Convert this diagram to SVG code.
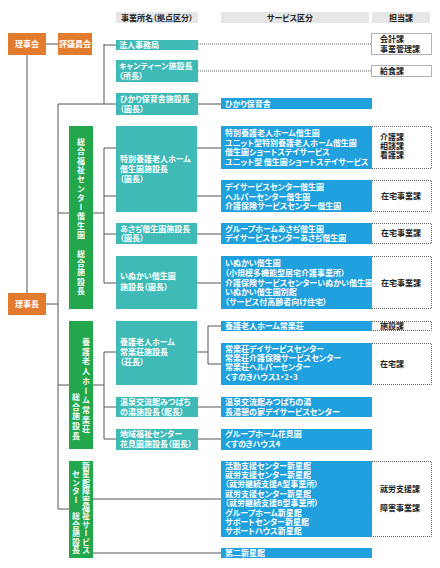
<svg xmlns="http://www.w3.org/2000/svg" width="440" height="568" viewBox="0 0 440 568">
<style>
text{font-family:"Noto Sans CJK JP","Noto Sans CJK SC",sans-serif;font-weight:bold;font-size:8px;font-feature-settings:"palt"}
.w{fill:#fff}
.k{fill:#222}
.vt{fill:#fff;writing-mode:vertical-rl;font-feature-settings:normal}
.or{fill:#e37b2f}
.gr{fill:#22a74d}
.te{fill:#40bab6}
.bl{fill:#20a0dc}
.hd{fill:#e6e6e6}
.ln{stroke:#555;stroke-width:1;fill:none}
.dl{stroke:#666;stroke-width:1;fill:none;stroke-dasharray:1 1}
.db{stroke:#666;stroke-width:1;fill:#fff;stroke-dasharray:1 1}
</style>
<rect width="440" height="568" fill="#fff"/>

<g id="headers">
<rect class="hd" x="116" y="12" width="82" height="11"/>
<text class="k" x="157" y="20.5" text-anchor="middle">事業所名（拠点区分）</text>
<rect class="hd" x="221" y="12" width="148" height="11"/>
<text class="k" x="290" y="20.5" text-anchor="middle">サービス区分</text>
<rect class="hd" x="372" y="12" width="58" height="11"/>
<text class="k" x="401" y="20.5" text-anchor="middle">担当課</text>
</g>

<g id="connectors">
<path class="ln" d="M46 44H58 M27 55V293 M46 304H58 M58 104V509 M58 104H116 M104 44V104 M104 45H116 M198 104H221"/>
<path class="dl" d="M198 44H371 M198 71H371"/>
<path class="ln" d="M58 213H69 M93 213H104 M104 148V283 M104 148H116 M104 196H116 M104 234H116 M104 283H116 M197 148H221 M197 196H221 M197 234H221 M197 283H221"/>
<path class="ln" d="M58 385H69 M93 385H104 M104 352V439 M104 352H116 M104 407H116 M104 439H116 M197 352H208 M208 326V364 M208 326H221 M208 364H221 M197 407H221 M197 439H221"/>
<path class="ln" d="M58 509H69 M93 499H221 M93 553H221"/>
</g>

<g id="rijikai"><rect class="or" x="8" y="33" width="38" height="22"/><text class="w" x="27" y="47" text-anchor="middle">理事会</text></g>
<g id="hyogiinkai"><rect class="or" x="58" y="33" width="34" height="22"/><text class="w" x="75" y="47" text-anchor="middle">評議員会</text></g>
<g id="rijicho"><rect class="or" x="8" y="293" width="38" height="22"/><text class="w" x="27" y="307" text-anchor="middle">理事長</text></g>

<g id="green1"><rect class="gr" x="69" y="126" width="24" height="183"/><text class="vt" x="81" y="138" letter-spacing="1.3">総合福祉センター偕生園　総合施設長</text></g>
<g id="green2"><rect class="gr" x="69" y="321" width="24" height="128"/><text class="vt" x="86" y="338" letter-spacing="1.7">養護老人ホーム常楽荘</text><text class="vt" x="76" y="393" letter-spacing="1.7">総合施設長</text></g>
<g id="green3"><rect class="gr" x="69" y="461" width="24" height="97"/><text class="vt" x="86" y="462" letter-spacing="0.4">新星館障害福祉サービス</text><text class="vt" x="76" y="470.4" letter-spacing="0.4">センター　総合施設長</text></g>

<g id="t-hojin"><rect class="te" x="116" y="40" width="82" height="10"/><text class="w" x="119" y="48">法人事務局</text></g>
<g id="t-canteen"><rect class="te" x="116" y="60" width="82" height="22"/><text class="w" x="119" y="69">キャンティーン施設長</text><text class="w" x="119" y="79">（所長）</text></g>
<g id="t-hikari"><rect class="te" x="116" y="93" width="82" height="22"/><text class="w" x="120" y="102">ひかり保育舎施設長</text><text class="w" x="120" y="112">（園長）</text></g>
<g id="t-tokuyo"><rect class="te" x="116" y="126" width="81" height="86"/><text class="w" x="120" y="162">特別養護老人ホーム</text><text class="w" x="120" y="172">偕生園施設長</text><text class="w" x="120" y="182">（園長）</text></g>
<g id="t-asadi"><rect class="te" x="116" y="223" width="81" height="21"/><text class="w" x="120" y="232">あさぢ偕生園施設長</text><text class="w" x="120" y="241">（園長）</text></g>
<g id="t-inukai"><rect class="te" x="116" y="256" width="81" height="53"/><text class="w" x="120" y="279">いぬかい偕生園</text><text class="w" x="120" y="290">施設長（園長）</text></g>
<g id="t-joraku"><rect class="te" x="116" y="321" width="81" height="64"/><text class="w" x="120" y="345">養護老人ホーム</text><text class="w" x="120" y="355">常楽荘施設長</text><text class="w" x="120" y="365">（荘長）</text></g>
<g id="t-onsen"><rect class="te" x="116" y="397" width="82" height="20"/><text class="w" x="120" y="405">温泉交流館みつばち</text><text class="w" x="120" y="415">の湯施設長（館長）</text></g>
<g id="t-chiiki"><rect class="te" x="116" y="429" width="82" height="21"/><text class="w" x="120" y="437">地域福祉センター</text><text class="w" x="120" y="447">花見園施設長（園長）</text></g>

<g id="b-hikari"><rect class="bl" x="221" y="98" width="151" height="11"/><text class="w" x="225" y="106.5">ひかり保育舎</text></g>
<g id="b-tokuyo"><rect class="bl" x="221" y="126" width="151" height="43"/><text class="w" x="225" y="136">特別養護老人ホーム偕生園</text><text class="w" x="225" y="145.5">ユニット型特別養護老人ホーム偕生園</text><text class="w" x="225" y="155">偕生園ショートステイサービス</text><text class="w" x="225" y="164.5">ユニット型 偕生園ショートステイサービス</text></g>
<g id="b-day"><rect class="bl" x="221" y="180" width="151" height="32"/><text class="w" x="225" y="190">デイサービスセンター偕生園</text><text class="w" x="225" y="199.5">ヘルパーセンター偕生園</text><text class="w" x="225" y="209">介護保険サービスセンター偕生園</text></g>
<g id="b-asadi"><rect class="bl" x="221" y="223" width="151" height="21"/><text class="w" x="225" y="231.5">グループホームあさぢ偕生園</text><text class="w" x="225" y="241">デイサービスセンターあさぢ偕生園</text></g>
<g id="b-inukai"><rect class="bl" x="221" y="256" width="151" height="53"/><text class="w" x="225" y="266">いぬかい偕生園</text><text class="w" x="225" y="276">（小規模多機能型居宅介護事業所）</text><text class="w" x="225" y="286">介護保険サービスセンターいぬかい偕生園</text><text class="w" x="225" y="295">いぬかい偕生園別館</text><text class="w" x="225" y="304.5">（サービス付高齢者向け住宅）</text></g>
<g id="b-joraku"><rect class="bl" x="221" y="321" width="151" height="10"/><text class="w" x="225" y="329">養護老人ホーム常楽荘</text></g>
<g id="b-jorakuday"><rect class="bl" x="221" y="343" width="151" height="42"/><text class="w" x="225" y="352">常楽荘デイサービスセンター</text><text class="w" x="225" y="361">常楽荘介護保険サービスセンター</text><text class="w" x="225" y="370">常楽荘ヘルパーセンター</text><text class="w" x="225" y="380">くすのきハウス1・2・3</text></g>
<g id="b-onsen"><rect class="bl" x="221" y="397" width="151" height="20"/><text class="w" x="225" y="405">温泉交流館みつばちの湯</text><text class="w" x="225" y="415">長湯憩の家デイサービスセンター</text></g>
<g id="b-hanami"><rect class="bl" x="221" y="429" width="151" height="21"/><text class="w" x="225" y="437">グループホーム花見園</text><text class="w" x="225" y="446.5">くすのきハウス4</text></g>
<g id="b-shinsei"><rect class="bl" x="221" y="461" width="151" height="76"/><text class="w" x="225" y="469">活動支援センター新星館</text><text class="w" x="225" y="478">就労支援センター新星館</text><text class="w" x="225" y="487">（就労継続支援A型事業所）</text><text class="w" x="225" y="496.5">就労支援センター新星館</text><text class="w" x="225" y="506">（就労継続支援B型事業所）</text><text class="w" x="225" y="515.5">グループホーム新星館</text><text class="w" x="225" y="525">サポートセンター新星館</text><text class="w" x="225" y="534">サポートハウス新星館</text></g>
<g id="b-daini"><rect class="bl" x="221" y="548" width="151" height="10"/><text class="w" x="225" y="556">第二新星館</text></g>

<g id="d-kaikei"><rect class="db" x="371.5" y="33.5" width="60" height="21"/><text class="k" x="380" y="42">会計課</text><text class="k" x="380" y="52">事業管理課</text></g>
<g id="d-kyushoku"><rect class="db" x="371.5" y="65.5" width="60" height="11"/><text class="k" x="380" y="74">給食課</text></g>
<g id="d-kaigo"><path class="db" d="M372 126.5H431.5V168.5H372"/><text class="k" x="380" y="140">介護課</text><text class="k" x="380" y="149">相談課</text><text class="k" x="380" y="158">看護課</text></g>
<g id="d-zaitaku1"><path class="db" d="M372 180.5H431.5V211.5H372"/><text class="k" x="401" y="199" text-anchor="middle">在宅事業課</text></g>
<g id="d-zaitaku2"><path class="db" d="M372 223.5H431.5V243.5H372"/><text class="k" x="401" y="236" text-anchor="middle">在宅事業課</text></g>
<g id="d-zaitaku3"><path class="db" d="M372 256.5H431.5V308.5H372"/><text class="k" x="401" y="286" text-anchor="middle">在宅事業課</text></g>
<g id="d-shisetsu"><path class="db" d="M372 321.5H431.5V330.5H372"/><text class="k" x="380" y="329">施設課</text></g>
<g id="d-zaitaku4"><path class="db" d="M372 343.5H431.5V384.5H372"/><text class="k" x="380" y="367">在宅課</text></g>
<g id="d-shuro"><path class="db" d="M372 461.5H431.5V536.5H372"/><text class="k" x="380" y="492">就労支援課</text><text class="k" x="380" y="511">障害事業課</text></g>
</svg>
